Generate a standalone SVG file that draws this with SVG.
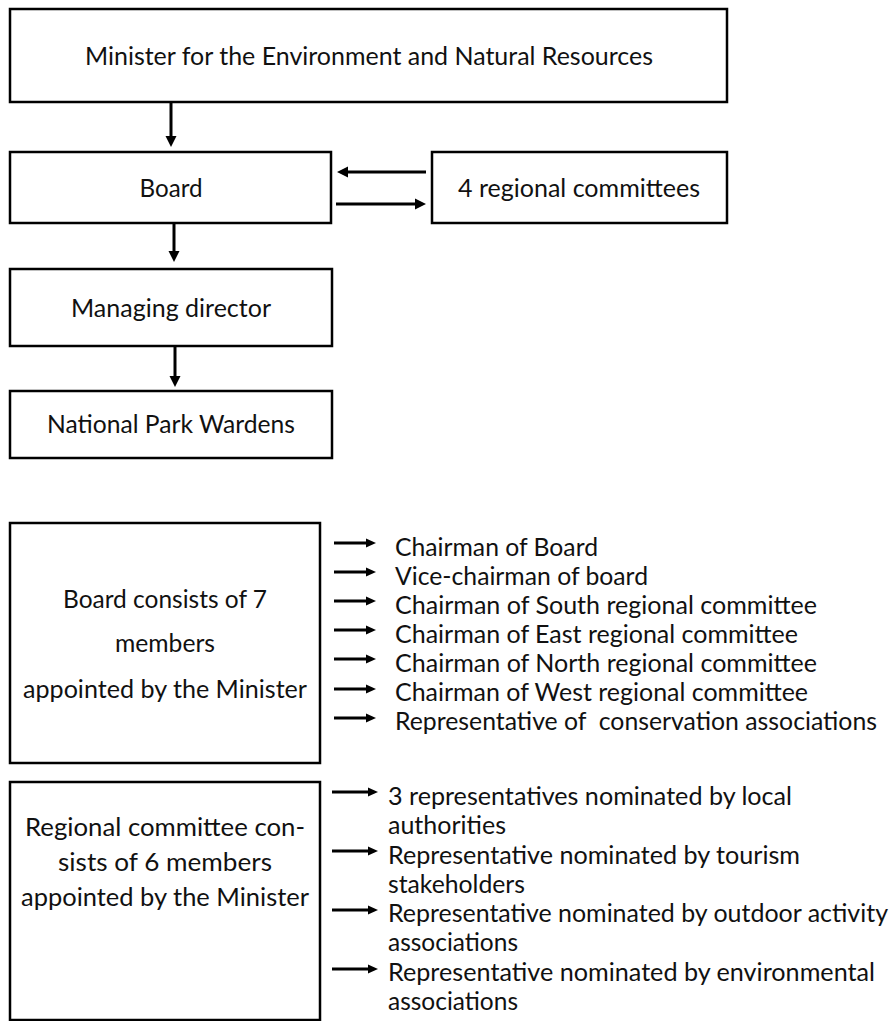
<svg xmlns="http://www.w3.org/2000/svg" width="893" height="1021" viewBox="0 0 893 1021">
<style>
.box{fill:#fff;stroke:#000;stroke-width:2.5}
.t{font-family:Lato,"Open Sans","Liberation Sans",sans-serif;font-size:24.5px;fill:#111;white-space:pre}
.c{text-anchor:middle}
.a{stroke:#000;stroke-width:3;fill:none}
.ah{marker-end:url(#h)}
.as{marker-end:url(#hs)}
</style>
<defs>
<marker id="h" markerUnits="userSpaceOnUse" markerWidth="12" markerHeight="12" refX="1" refY="6" orient="auto" viewBox="0 0 12 12">
<path d="M0,0.5 L11,6 L0,11.5 z" fill="#000"/>
</marker>
<marker id="hs" markerUnits="userSpaceOnUse" markerWidth="11" markerHeight="11" refX="1" refY="5.5" orient="auto" viewBox="0 0 11 11">
<path d="M0,1 L10,5.5 L0,10 z" fill="#000"/>
</marker>
</defs>
<rect width="893" height="1021" fill="#fff"/>

<g id="minister">
<rect class="box" x="10" y="9" width="717" height="93"/>
<text class="t c" x="369" y="65" textLength="568" lengthAdjust="spacingAndGlyphs">Minister for the Environment and Natural Resources</text>
</g>
<g id="board">
<rect class="box" x="10" y="152" width="321" height="71"/>
<text class="t c" x="171" y="197" textLength="63" lengthAdjust="spacingAndGlyphs">Board</text>
</g>
<g id="regional-committees">
<rect class="box" x="432" y="152" width="295" height="71"/>
<text class="t c" x="579" y="197" textLength="242" lengthAdjust="spacingAndGlyphs">4 regional committees</text>
</g>
<g id="managing-director">
<rect class="box" x="10" y="269" width="322" height="77"/>
<text class="t c" x="171" y="317" textLength="200" lengthAdjust="spacingAndGlyphs">Managing director</text>
</g>
<g id="wardens">
<rect class="box" x="10" y="391" width="322" height="67"/>
<text class="t c" x="171" y="433" textLength="248" lengthAdjust="spacingAndGlyphs">National Park Wardens</text>
</g>

<g id="connectors">
<line class="a ah" x1="171" y1="103" x2="171" y2="137"/>
<line class="a ah" x1="426" y1="172" x2="347" y2="172"/>
<line class="a ah" x1="336" y1="204" x2="416" y2="204"/>
<line class="a ah" x1="174" y1="222" x2="174" y2="252"/>
<line class="a ah" x1="175" y1="346" x2="175" y2="377"/>
</g>

<g id="board-composition">
<rect class="box" x="10" y="523" width="310" height="240"/>
<text class="t c" x="165" y="608" textLength="204" lengthAdjust="spacingAndGlyphs">Board consists of 7</text>
<text class="t c" x="165" y="652" textLength="100" lengthAdjust="spacingAndGlyphs">members</text>
<text class="t c" x="165" y="698" textLength="284" lengthAdjust="spacingAndGlyphs">appointed by the Minister</text>
</g>
<g id="board-members">
<g class="a">
<line class="as" x1="334" y1="543" x2="367" y2="543"/>
<line class="as" x1="334" y1="572" x2="367" y2="572"/>
<line class="as" x1="334" y1="601" x2="367" y2="601"/>
<line class="as" x1="334" y1="630" x2="367" y2="630"/>
<line class="as" x1="334" y1="659" x2="367" y2="659"/>
<line class="as" x1="334" y1="689" x2="367" y2="689"/>
<line class="as" x1="334" y1="718" x2="367" y2="718"/>
</g>
<text class="t" x="395" y="556" textLength="203" lengthAdjust="spacingAndGlyphs">Chairman of Board</text>
<text class="t" x="395" y="585" textLength="253" lengthAdjust="spacingAndGlyphs">Vice-chairman of board</text>
<text class="t" x="395" y="614" textLength="422" lengthAdjust="spacingAndGlyphs">Chairman of South regional committee</text>
<text class="t" x="395" y="643" textLength="403" lengthAdjust="spacingAndGlyphs">Chairman of East regional committee</text>
<text class="t" x="395" y="672" textLength="422" lengthAdjust="spacingAndGlyphs">Chairman of North regional committee</text>
<text class="t" x="395" y="701" textLength="413" lengthAdjust="spacingAndGlyphs">Chairman of West regional committee</text>
<text class="t" x="395" y="730" textLength="482" lengthAdjust="spacingAndGlyphs">Representative of  conservation associations</text>
</g>

<g id="committee-composition">
<rect class="box" x="10" y="782" width="310" height="238"/>
<text class="t c" x="165" y="836" textLength="280" lengthAdjust="spacingAndGlyphs">Regional committee con-</text>
<text class="t c" x="165" y="871" textLength="214" lengthAdjust="spacingAndGlyphs">sists of 6 members</text>
<text class="t c" x="165" y="906" textLength="288" lengthAdjust="spacingAndGlyphs">appointed by the Minister</text>
</g>
<g id="committee-members">
<g class="a">
<line class="as" x1="332" y1="792" x2="369" y2="792"/>
<line class="as" x1="332" y1="851" x2="369" y2="851"/>
<line class="as" x1="332" y1="910" x2="369" y2="910"/>
<line class="as" x1="332" y1="969" x2="369" y2="969"/>
</g>
<text class="t" x="388" y="805" textLength="404" lengthAdjust="spacingAndGlyphs">3 representatives nominated by local</text>
<text class="t" x="388" y="834" textLength="118" lengthAdjust="spacingAndGlyphs">authorities</text>
<text class="t" x="388" y="864" textLength="412" lengthAdjust="spacingAndGlyphs">Representative nominated by tourism</text>
<text class="t" x="388" y="893" textLength="137" lengthAdjust="spacingAndGlyphs">stakeholders</text>
<text class="t" x="388" y="922" textLength="500" lengthAdjust="spacingAndGlyphs">Representative nominated by outdoor activity</text>
<text class="t" x="388" y="951" textLength="130" lengthAdjust="spacingAndGlyphs">associations</text>
<text class="t" x="388" y="981" textLength="487" lengthAdjust="spacingAndGlyphs">Representative nominated by environmental</text>
<text class="t" x="388" y="1010" textLength="130" lengthAdjust="spacingAndGlyphs">associations</text>
</g>
</svg>
